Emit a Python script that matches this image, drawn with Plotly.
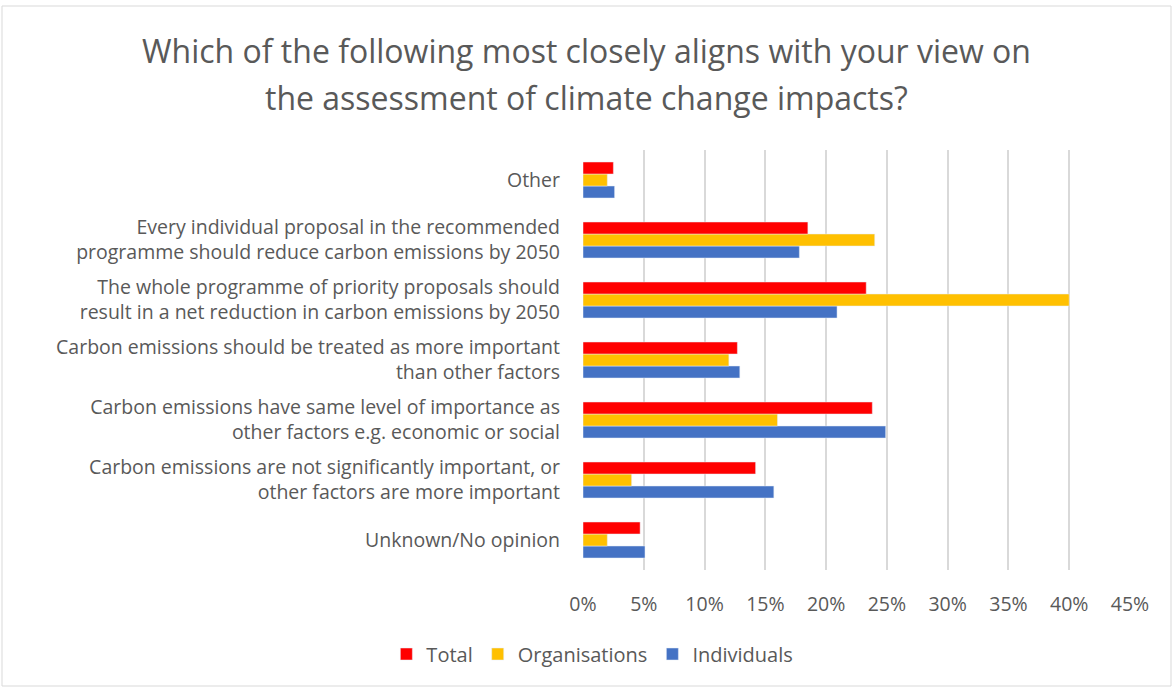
import plotly.graph_objects as go

categories = [
    "Unknown/No opinion",
    "Carbon emissions are not significantly important, or<br>other factors are more important",
    "Carbon emissions have same level of importance as<br>other factors e.g. economic or social",
    "Carbon emissions should be treated as more important<br>than other factors",
    "The whole programme of priority proposals should<br>result in a net reduction in carbon emissions by 2050",
    "Every individual proposal in the recommended<br>programme should reduce carbon emissions by 2050",
    "Other",
]
total = [0.047, 0.142, 0.238, 0.127, 0.233, 0.185, 0.025]
organisations = [0.020, 0.040, 0.160, 0.120, 0.400, 0.240, 0.020]
individuals = [0.051, 0.157, 0.249, 0.129, 0.209, 0.178, 0.026]
x_ticks = [0, 0.05, 0.10, 0.15, 0.20, 0.25, 0.30, 0.35, 0.40, 0.45]
x_labels = ["0%", "5%", "10%", "15%", "20%", "25%", "30%", "35%", "40%", "45%"]
title_lines = ["Which of the following most closely aligns with your view on",
               "the assessment of climate change impacts?"]

font_family = "Open Sans, Noto Sans, sans-serif"
grey = "#595959"

fig = go.Figure()
fig.add_trace(go.Bar(y=categories, x=individuals, name="Individuals", orientation="h",
                     marker=dict(color="#4472C4")))
fig.add_trace(go.Bar(y=categories, x=organisations, name="Organisations", orientation="h",
                     marker=dict(color="#FFC000")))
fig.add_trace(go.Bar(y=categories, x=total, name="Total", orientation="h",
                     marker=dict(color="#FF0000")))

fig.update_layout(
    width=1173, height=688,
    margin=dict(l=583, r=43, t=150, b=118),
    paper_bgcolor="white", plot_bgcolor="white",
    barmode="group", bargap=0.4, bargroupgap=0,
    font=dict(family=font_family, size=19, color=grey),
    legend=dict(orientation="h", traceorder="reversed",
                x=0.505, xanchor="center", xref="container",
                y=1 - 654 / 688, yanchor="middle", yref="container",
                font=dict(family=font_family, size=20, color=grey),
                itemwidth=30),
    showlegend=True,
)
# title as two annotation lines (paper coords relative to plot area: top=150px, height=420px)
for line, ypix in zip(title_lines, [51, 97]):
    fig.add_annotation(text=line, xref="paper", yref="paper",
                       x=(586 - 583) / 547, y=(570 - ypix) / 420,
                       xanchor="center", yanchor="middle", showarrow=False,
                       font=dict(family=font_family, size=32, color=grey))

fig.update_xaxes(range=[0, 0.45], tickvals=x_ticks, ticktext=x_labels,
                 showgrid=True, gridcolor="#D9D9D9", gridwidth=1.5,
                 zeroline=False, showline=False, ticks="",
                 ticklabelstandoff=20,
                 tickfont=dict(family=font_family, size=19.5, color=grey))
fig.update_yaxes(showgrid=False, showline=False, ticks="",
                 ticklabelstandoff=22,
                 tickfont=dict(family=font_family, size=19.5, color=grey))

fig.add_shape(type="rect", xref="paper", yref="paper",
              x0=(2 - 583) / 547, x1=(1171 - 583) / 547,
              y0=(570 - 686) / 420, y1=(570 - 6) / 420,
              line=dict(color="#D9D9D9", width=1), fillcolor="rgba(0,0,0,0)", layer="below")

fig.write_html("out.html", config={"displayModeBar": False},
               post_script="document.body.style.margin='0';document.body.style.overflow='hidden';")
